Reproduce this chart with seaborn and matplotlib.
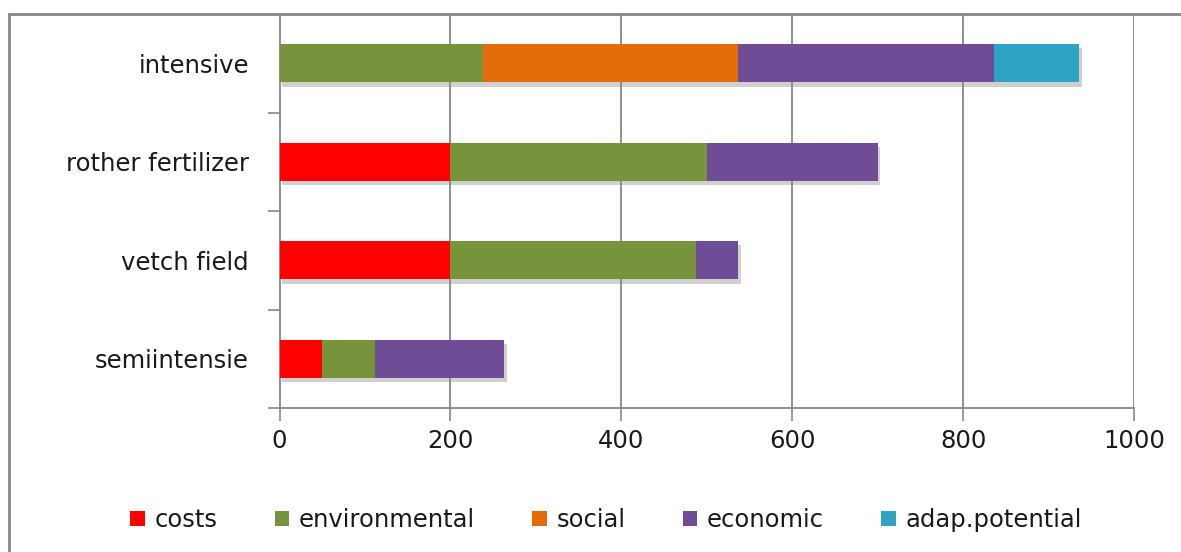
import numpy as np
import pandas as pd
import matplotlib
matplotlib.use("Agg")
import matplotlib.pyplot as plt
import matplotlib.patheffects as pe
from matplotlib.lines import Line2D
from matplotlib.patches import Patch
import seaborn as sns

# Scores per farming system, stacked by criterion
systems = ["intensive", "rother fertilizer", "vetch field", "semiintensie"]
criteria = ["costs", "environmental", "social", "economic", "adap.potential"]
costs = [0, 200, 200, 50]
environmental = [238, 300, 287, 62]
social = [298, 0, 0, 0]
economic = [300, 200, 50, 151]
adap_potential = [100, 0, 0, 0]
x_ticks = [0, 200, 400, 600, 800, 1000]

colors = ["#FF0000", "#77933C", "#E46C0A", "#6E4D96", "#2FA3C4"]

sns.set_theme(style="white")
plt.rcParams["font.family"] = ["DejaVu Sans"]
FS = 17.5

values = np.array([costs, environmental, social, economic, adap_potential], dtype=float)
cumulative = values.cumsum(axis=0)
df = pd.DataFrame({"system": systems})
for name, cum in zip(criteria, cumulative):
    df[name] = cum

fig = plt.figure(figsize=(11.81, 5.52), dpi=100)
ax = fig.add_axes([279.5 / 1181, 1 - 408 / 552, (1134 - 279.5) / 1181, (408 - 14) / 552])

grid_c = "#878787"
for xv in x_ticks[1:]:
    ax.axvline(xv, color=grid_c, lw=1.3, zorder=0)

# Stack by overlaying cumulative totals, longest first
for i in range(len(criteria) - 1, -1, -1):
    sns.barplot(data=df, y="system", x=criteria[i], order=systems, color=colors[i],
                orient="h", width=0.39, saturation=1, linewidth=0, edgecolor="none",
                ax=ax, zorder=2 + (len(criteria) - i))
    if i == len(criteria) - 1:
        for p in ax.patches:
            p.set_path_effects([pe.SimplePatchShadow(offset=(2, -3), shadow_rgbFace="#8a8a8a",
                                                     alpha=0.4), pe.Normal()])

ax.set_xlim(0, 1000)
ax.set_ylim(3.5, -0.5)
ax.set_xlabel("")
ax.set_ylabel("")
ax.set_xticks(x_ticks)
ax.set_xticklabels([str(v) for v in x_ticks])
ax.set_yticks(range(len(systems)))
ax.set_yticklabels(systems)
ax.set_yticks([0.5, 1.5, 2.5, 3.5], minor=True)
ax.tick_params(axis="y", which="both", left=True)
ax.tick_params(axis="x", which="major", bottom=True)
ax.tick_params(axis="y", which="major", length=0, pad=22, labelsize=FS, labelcolor="#1a1a1a")
ax.tick_params(axis="y", which="minor", length=9, width=1.2, color=grid_c, direction="out")
ax.tick_params(axis="x", which="major", length=9, width=1.2, color=grid_c, direction="out",
               pad=6, labelsize=FS, labelcolor="#1a1a1a")

for side in ["top", "right"]:
    ax.spines[side].set_visible(False)
for side in ["left", "bottom"]:
    ax.spines[side].set_color(grid_c)
    ax.spines[side].set_linewidth(1.3)

# Outer chart frame
fig.add_artist(Line2D([8.5 / 1181, 1.0], [1 - 14 / 552] * 2, transform=fig.transFigure,
                      color=grid_c, lw=2))
fig.add_artist(Line2D([8.5 / 1181] * 2, [0, 1 - 14 / 552], transform=fig.transFigure,
                      color=grid_c, lw=2))

handles = [Patch(facecolor=c, edgecolor="none") for c in colors]
fig.legend(handles, criteria, loc="center", bbox_to_anchor=(606 / 1181, 1 - 520 / 552), ncol=5,
           frameon=False, fontsize=FS, handlelength=0.6, handleheight=0.6,
           handletextpad=0.4, columnspacing=2.35, labelcolor="#1a1a1a")

fig.savefig("out.png", dpi=100)
